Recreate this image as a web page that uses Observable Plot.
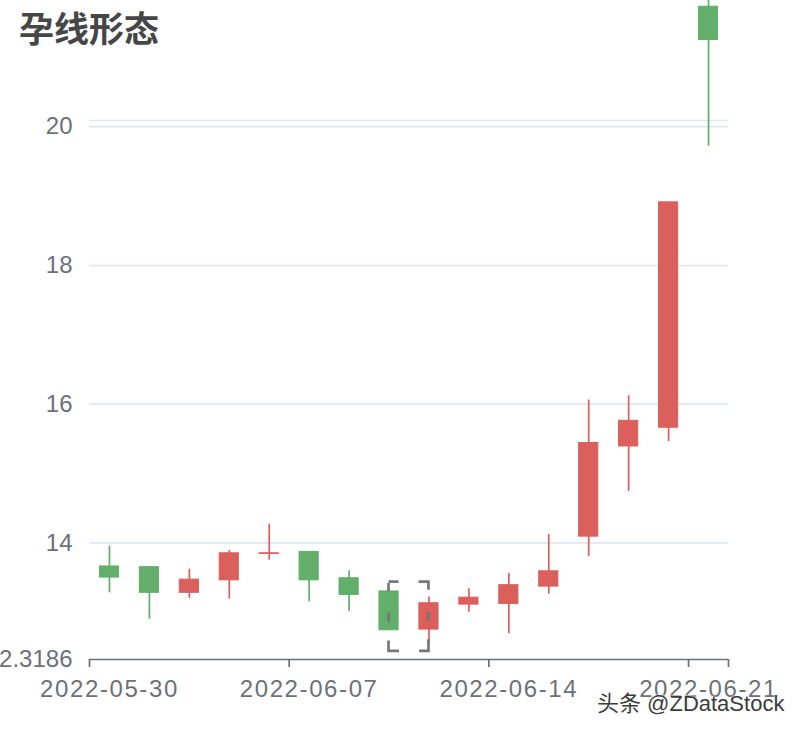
<!DOCTYPE html>
<html>
<head>
<meta charset="utf-8">
<script src="https://cdn.jsdelivr.net/npm/d3@7"></script>
<script src="https://cdn.jsdelivr.net/npm/@observablehq/plot@0.6"></script>
<style>
  html, body { margin: 0; padding: 0; background: white; }
  #wrap { position: relative; width: 802px; height: 734px; overflow: hidden; }
  #title { position: absolute; left: 19px; top: 9px; font-family: "Noto Sans CJK SC", sans-serif; font-weight: 700; font-size: 35px; line-height: 35px; color: #464646; z-index: 2; }
  #mark { position: absolute; left: 597px; top: 692px; font-family: "Liberation Sans", "Noto Sans CJK SC", sans-serif; font-weight: 400; font-size: 22px; line-height: 24px; color: #3c3c3c; text-shadow: 0 0 2px #fff, 0 0 2px #fff; z-index: 2; }
  #chart g[aria-label="x-axis tick label"] text { letter-spacing: 1.6px; }
</style>
</head>
<body>
<div id="wrap">
  <div id="title">孕线形态</div>
  <div id="chart"></div>
  <div id="mark">头条 @ZDataStock</div>
</div>
<script>
const dates = ["2022-05-30","2022-05-31","2022-06-01","2022-06-02","2022-06-06","2022-06-07","2022-06-08","2022-06-09","2022-06-10","2022-06-13","2022-06-14","2022-06-15","2022-06-16","2022-06-17","2022-06-20","2022-06-21"];
const openV  = [13.66,13.65,13.28,13.46,13.84,13.87,13.49,13.30,12.75,13.11,13.12,13.37,14.09,15.39,15.66,21.73];
const closeV = [13.50,13.28,13.47,13.85,13.85,13.46,13.25,12.74,13.13,13.21,13.39,13.59,15.44,15.76,18.91,21.25];
const highV  = [13.95,13.65,13.62,13.89,14.27,13.87,13.60,13.30,13.22,13.34,13.56,14.12,16.06,16.12,18.91,22.69];
const lowV   = [13.28,12.90,13.20,13.19,13.75,13.15,13.01,12.74,12.56,13.00,12.69,13.26,13.80,14.74,15.46,19.72];
const patternIdx = [7, 8];           // harami pair
const yTicks = [12.3186, 14, 16, 18, 20];
const yMin = 12.3186, yMax = 20.09;
const xTickIdx = [0, 5, 10, 15, 16];
const xLabelIdx = [0, 5, 10, 15];

const UP = "#db5f5a", DOWN = "#62ae6b";
const data = dates.map((d, i) => ({i, date: d, open: openV[i], close: closeV[i], high: highV[i], low: lowV[i]}));
const col = d => d.close >= d.open ? UP : DOWN;

const box = {
  x1: patternIdx[0] + 0.5,
  x2: patternIdx[1] + 0.5,
  y1: d3.min(patternIdx, i => lowV[i]) * 0.99,
  y2: d3.max(patternIdx, i => highV[i]) * 1.01
};

const chart = Plot.plot({
  width: 802, height: 734,
  marginLeft: 89, marginRight: 74, marginTop: 120, marginBottom: 75,
  style: {fontFamily: "'Liberation Sans', Arial, sans-serif", fontSize: "24px", color: "#6E7079", background: "white", overflow: "visible"},
  color: {type: "identity"},
  x: {domain: [0, 16], axis: null},
  y: {domain: [yMin, yMax], axis: null},
  marks: [
    Plot.ruleY(yTicks.slice(1).concat([yMax]), {stroke: "#E0E6F1", strokeWidth: 1.6}),
    Plot.ruleX(data, {x: d => d.i + 0.5, y1: "low", y2: "high", stroke: col, strokeWidth: 1.7}),
    Plot.rect(data, {x1: d => d.i + 0.26, x2: d => d.i + 0.74, y1: "open", y2: "close", fill: col, stroke: col, strokeWidth: 1}),
    Plot.rect([box], {x1: "x1", x2: "x2", y1: "y1", y2: "y2", fill: "none", stroke: "#777", strokeWidth: 2.7,
      strokeDasharray: "10,20,18,22,9,18.6,21,20,21,18.8,9,21.8,8"}),
    Plot.ruleY([yMin], {stroke: "#6E7079", strokeWidth: 1.7}),
    Plot.axisX({ticks: xTickIdx, tickSize: 8, strokeWidth: 1.7, tickFormat: () => ""}),
    Plot.axisX({ticks: xLabelIdx.map(i => i + 0.5), tickSize: 0, tickPadding: 20, tickFormat: v => dates[Math.floor(v)],
      fill: "#6E7079"}),
    Plot.axisY({ticks: yTicks, tickSize: 0, tickPadding: 17, tickFormat: d => String(d), fill: "#6E7079"})
  ]
});
document.getElementById("chart").appendChild(chart);
</script>
</body>
</html>
